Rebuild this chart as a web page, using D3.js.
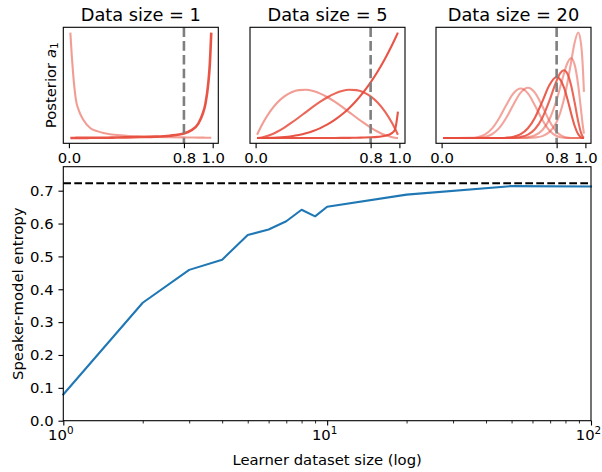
<!DOCTYPE html>
<html><head><meta charset="utf-8">
<script src="https://cdn.jsdelivr.net/npm/d3@7"></script>
<style>
body{margin:0;background:#fff}
svg{display:block}
text{font-family:"DejaVu Sans",sans-serif;fill:#000}
</style>
</head><body>
<svg id="c" width="602" height="472"></svg>
<script>
// ---------------- data ----------------
const mainSizes   = [1, 2, 3, 4, 5, 6, 7, 8, 9, 10, 20, 50, 100];
const mainEntropy = [0.08, 0.359, 0.459, 0.49, 0.565, 0.582, 0.607, 0.642, 0.622, 0.651, 0.688, 0.714, 0.713];
const entropyTarget = 0.7225;
const mainYTicks = [0.0, 0.1, 0.2, 0.3, 0.4, 0.5, 0.6, 0.7];
const mainXMajor = [1, 10, 100];
const mainXMinor = [2,3,4,5,6,7,8,9,20,30,40,50,60,70,80,90];

const panelTitles = ["Data size = 1", "Data size = 5", "Data size = 20"];
const panelTicks = [0.0, 0.8, 1.0];
const trueA1 = 0.8;

// Panel 1 (data size 1): posterior densities on a grid
const grid1 = [0.01,0.02,0.03,0.05,0.07,0.1,0.15,0.2,0.3,0.4,0.5,0.6,0.7,0.8,0.85,0.9,0.93,0.95,0.97,0.98,0.99];
const p1Low  = [1.0,0.78,0.6,0.355,0.26,0.175,0.095,0.066,0.036,0.024,0.018,0.014,0.011,0.009,0.008,0.007,0.007,0.006,0.006,0.006,0.006];
const p1High = [0.003,0.003,0.003,0.004,0.004,0.004,0.005,0.005,0.007,0.009,0.012,0.016,0.025,0.045,0.075,0.14,0.23,0.33,0.53,0.7,1.0];

// Panel 2 (data size 5)
const grid2 = [0.01,0.05,0.1,0.15,0.2,0.25,0.3,0.35,0.4,0.45,0.5,0.55,0.6,0.65,0.7,0.75,0.8,0.85,0.9,0.95,0.97,0.99];
const p2A = [0.118,0.542,0.972,1.301,1.536,1.688,1.764,1.775,1.728,1.634,1.5,1.337,1.152,0.956,0.756,0.563,0.384,0.230,0.108,0.029,0.011,0.001];
const p2B = [0.001,0.029,0.108,0.230,0.384,0.563,0.756,0.956,1.152,1.337,1.5,1.634,1.728,1.775,1.764,1.688,1.536,1.301,0.972,0.542,0.339,0.118];
const p2C = [0.0,0.001,0.004,0.014,0.032,0.063,0.108,0.172,0.256,0.365,0.5,0.666,0.864,1.099,1.372,1.688,2.048,2.457,2.916,3.43,3.651,3.881];
const p2D = [0.0,0.0,0.0,0.0,0.0001,0.0002,0.0003,0.0005,0.0008,0.0012,0.0017,0.0028,0.0044,0.007,0.011,0.017,0.026,0.044,0.08,0.19,0.32,0.97];

// Panel 3 (data size 20)
const grid3 = [0.01,0.1,0.2,0.25,0.3,0.35,0.4,0.45,0.5,0.55,0.6,0.65,0.7,0.75,0.8,0.825,0.85,0.875,0.9,0.925,0.95,0.97,0.98,0.99];
const p3a = [0,0,0.0097,0.063,0.252,0.705,1.492,2.487,3.364,3.717,3.354,2.433,1.373,0.568,0.155,0.065,0.023,0.006,0.001,0,0,0,0,0];
const p3b = [0,0,0.0018,0.016,0.081,0.285,0.745,1.527,2.522,3.408,3.774,3.391,2.401,1.279,0.465,0.231,0.096,0.032,0.0075,0.001,0,0,0,0];
const p3c = [0,0,0,0,0.0001,0.0009,0.0057,0.026,0.097,0.293,0.735,1.551,2.737,3.983,4.581,4.393,3.827,2.933,1.885,0.925,0.28,0.051,0.012,0.001];
const p3d = [0,0,0,0,0,0,0.0009,0.0051,0.023,0.084,0.259,0.678,1.504,2.81,4.315,4.874,5.098,4.831,3.991,2.683,1.251,0.385,0.136,0.02];
const p3e = [0,0,0,0,0,0,0,0.0007,0.0038,0.017,0.065,0.21,0.585,1.406,2.875,3.83,4.817,5.635,5.99,5.517,3.964,2.076,1.109,0.333];
const p3f = [0,0,0,0,0,0,0,0,0,0.0022,0.01,0.041,0.144,0.444,1.211,1.9,2.872,4.154,5.669,7.165,7.925,7.064,5.72,3.47];

// ---------------- drawing ----------------
const svg = d3.select("#c");
const RED = "#e74c3c";
const FS = 14.8;
const TFS = 17.8;

const panels = [
  {grid: grid1, curves: [p1Low, p1High], op: [0.55, 0.95], w: [2.1, 2.6]},
  {grid: grid2, curves: [p2A, p2B, p2C, p2D], op: [0.55, 0.85, 0.95, 0.95], w: [2.1, 2.1, 2.1, 2.1]},
  {grid: grid3, curves: [p3a, p3b, p3c, p3d, p3e, p3f], op: [0.5, 0.5, 0.9, 0.85, 0.5, 0.5], w: [2.1,2.1,2.1,2.1,2.1,2.1]}
];
const panelLeft = [63.3, 250, 436], panelW = 155, pTop = 27.3, pBot = 143.3;

panels.forEach((p, i) => {
  const L = panelLeft[i];
  const x = d3.scaleLinear().domain([-0.039, 1.039]).range([L, L + panelW]);
  const all = p.curves.flat();
  const lo = d3.min(all), hi = d3.max(all), R = hi - lo;
  const y = d3.scaleLinear().domain([lo - 0.05 * R, hi + 0.05 * R]).range([pBot, pTop]);
  const g = svg.append("g");
  const line = d3.line().x((d, j) => x(p.grid[j])).y(d => y(d)).curve(d3.curveMonotoneX);
  p.curves.forEach((c, k) => {
    g.append("path").attr("d", line(c)).attr("fill", "none")
      .attr("stroke", RED).attr("stroke-opacity", p.op[k]).attr("stroke-width", p.w[k])
      .attr("stroke-linejoin", "round").attr("stroke-linecap", "butt");
  });
  g.append("line").attr("x1", x(trueA1)).attr("x2", x(trueA1)).attr("y1", pTop).attr("y2", pBot)
    .attr("stroke", "#7f7f7f").attr("stroke-width", 2.6).attr("stroke-dasharray", "9.6,4.2");
  g.append("rect").attr("x", L).attr("y", pTop).attr("width", panelW).attr("height", pBot - pTop)
    .attr("fill", "none").attr("stroke", "#000").attr("stroke-width", 1.1);
  const ax = svg.append("g").attr("transform", `translate(0,${pBot})`)
    .call(d3.axisBottom(x).tickValues(panelTicks).tickFormat(d3.format(".1f"))
      .tickSizeInner(4.86).tickSizeOuter(0).tickPadding(4.0));
  ax.select(".domain").remove();
  ax.selectAll(".tick line").attr("stroke", "#000").attr("stroke-width", 1.1);
  ax.selectAll(".tick text").attr("font-size", FS).attr("font-family", "DejaVu Sans");
  svg.append("text").attr("x", L + panelW / 2).attr("y", 20.5).attr("text-anchor", "middle")
    .attr("font-size", TFS).text(panelTitles[i]);
});

// y label for first panel
const yl = svg.append("text").attr("transform", `translate(55.5,${(pTop + pBot) / 2}) rotate(-90)`)
  .attr("text-anchor", "middle").attr("font-size", FS);
yl.append("tspan").text("Posterior ");
yl.append("tspan").attr("font-style", "italic").text("a");
yl.append("tspan").attr("font-size", 10.4).attr("dy", 2.7).text("1");

// ---------------- main chart ----------------
const mL = 63.3, mR = 591, mT = 166.7, mB = 420.7;
const xm = d3.scaleLog().domain([1, 100]).range([mL, mR]);
const ym = d3.scaleLinear().domain([0, 0.773]).range([mB, mT]);

const mg = svg.append("g");
mg.append("line").attr("x1", mL).attr("x2", mR).attr("y1", ym(entropyTarget)).attr("y2", ym(entropyTarget))
  .attr("stroke", "#000").attr("stroke-width", 2.08).attr("stroke-dasharray", "7.7,3.3");
mg.append("path").datum(mainSizes.map((s, i) => [s, mainEntropy[i]]))
  .attr("d", d3.line().x(d => xm(d[0])).y(d => ym(d[1])))
  .attr("fill", "none").attr("stroke", "#1f77b4").attr("stroke-width", 2.08)
  .attr("stroke-linejoin", "round").attr("stroke-linecap", "square");
mg.append("rect").attr("x", mL).attr("y", mT).attr("width", mR - mL).attr("height", mB - mT)
  .attr("fill", "none").attr("stroke", "#000").attr("stroke-width", 1.1);

const xMaj = svg.append("g").attr("transform", `translate(0,${mB})`)
  .call(d3.axisBottom(xm).tickValues(mainXMajor).tickFormat(() => "").tickSizeInner(4.86).tickSizeOuter(0).tickPadding(4.0));
xMaj.select(".domain").remove();
xMaj.selectAll(".tick line").attr("stroke", "#000").attr("stroke-width", 1.1);
xMaj.selectAll(".tick text").each(function(d) {
  const t = d3.select(this).attr("font-size", FS).attr("font-family", "DejaVu Sans").attr("dy", "0.71em").attr("dx", "-3");
  t.text("10");
  t.append("tspan").attr("font-size", 10.4).attr("dy", -6).text(String(Math.round(Math.log10(d))));
});
const xMin = svg.append("g").attr("transform", `translate(0,${mB})`)
  .call(d3.axisBottom(xm).tickValues(mainXMinor).tickFormat(() => "").tickSizeInner(2.78).tickSizeOuter(0));
xMin.select(".domain").remove();
xMin.selectAll(".tick line").attr("stroke", "#000").attr("stroke-width", 0.85);

const yAx = svg.append("g").attr("transform", `translate(${mL},0)`)
  .call(d3.axisLeft(ym).tickValues(mainYTicks).tickFormat(d3.format(".1f")).tickSizeInner(4.86).tickSizeOuter(0).tickPadding(4.86));
yAx.select(".domain").remove();
yAx.selectAll(".tick line").attr("stroke", "#000").attr("stroke-width", 1.1);
yAx.selectAll(".tick text").attr("font-size", FS).attr("font-family", "DejaVu Sans");

svg.append("text").attr("x", (mL + mR) / 2).attr("y", 465).attr("text-anchor", "middle")
  .attr("font-size", FS).text("Learner dataset size (log)");
svg.append("text").attr("transform", `translate(22.5,${(mT + mB) / 2}) rotate(-90)`)
  .attr("text-anchor", "middle").attr("font-size", FS).text("Speaker-model entropy");
</script>
</body></html>
